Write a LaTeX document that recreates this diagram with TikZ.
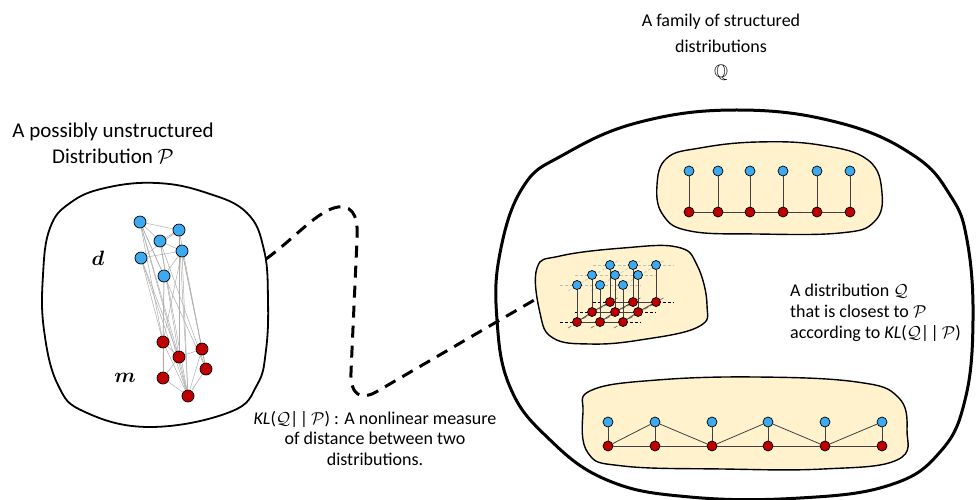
\documentclass[tikz,border=0pt]{standalone}
\usepackage{amsmath,amssymb}
\usepackage{fontspec}
\setmainfont{Carlito}
\usetikzlibrary{calc}
\pgfdeclarelayer{edgelayer}
\pgfsetlayers{edgelayer,main}
\definecolor{nblue}{HTML}{3DA9F0}
\definecolor{nred}{HTML}{C00000}
\definecolor{blobfill}{HTML}{FFF2CC}
\begin{document}
\begin{tikzpicture}[x=1pt,y=-1pt,
  bn/.style={circle,draw=black,fill=nblue,inner sep=0pt,minimum size=#1,line width=0.7pt},
  bn/.default=10pt,
  rn/.style={circle,draw=black,fill=nred,inner sep=0pt,minimum size=#1,line width=0.7pt},
  rn/.default=10pt,
  gedge/.style={draw=gray!65,line width=0.5pt},
  cedge/.style={draw=black!75,line width=0.8pt},
  blob/.style={draw=black,line width=1.4pt,fill=blobfill},
  bigblob/.style={draw=black,line width=3pt},
  pblob/.style={draw=black,line width=1.8pt},
  lbl/.style={font=\fontsize{18}{25.5}\selectfont,align=center,inner sep=0pt},
  gdash/.style={draw=black,line width=0.5pt,dash pattern=on 3pt off 2pt},
  ldash/.style={draw=gray!50,line width=0.5pt,dash pattern=on 3pt off 2pt},
  link/.style={draw=black,line width=3pt,dash pattern=on 12pt off 8pt}
]
\useasboundingbox (0,0) rectangle (977,499);

% ---------- texts ----------
\node[lbl,anchor=north] (ttop) at (721,14) {A family of structured\\distributions\\$\mathbb{Q}$};
\node[lbl,anchor=north,font=\fontsize{21}{26}\selectfont] (tleft) at (113,123) {A possibly unstructured\\Distribution $\mathcal{P}$};
\node[lbl,anchor=north,font=\fontsize{18}{20.5}\selectfont] (tbot) at (375,411)
  {\textit{KL}($\mathcal{Q}$|\kern1.5pt|\,$\mathcal{P}$) : A nonlinear measure\\of distance between two\\distributions.};
\node[lbl,anchor=north west,align=left,font=\fontsize{18}{21}\selectfont] (tright) at (790,284)
  {A distribution $\mathcal{Q}$\\that is closest to $\mathcal{P}$\\according to \textit{KL}($\mathcal{Q}$|\kern1.5pt|\,$\mathcal{P}$)};

% ---------- left blob ----------
\draw[pblob] plot[smooth cycle,tension=0.7] coordinates {(50,228) (70,203) (105,188) (157,183) (207,193) (247,213) (264,250) (268,300) (266,350) (257,385) (230,412) (150,427) (85,412) (58,385) (44,330) (43,275)};
\coordinate (pstart) at (266,259);

\node[font=\fontsize{21}{21}\selectfont] (dl) at (98,258) {$\boldsymbol{d}$};
\node[font=\fontsize{21}{21}\selectfont] (ml) at (125,378) {$\boldsymbol{m}$};

\foreach \n/\x/\y in {b1/140/222,b2/160/241,b3/179/230,b4/182/251,b5/141/258,b6/164/276}
  \node[bn=12pt] (\n) at (\x,\y) {};
\foreach \n/\x/\y in {r1/163/342,r2/179/357,r3/202/349,r4/206/369,r5/163/378,r6/188/396}
  \node[rn=12pt] (\n) at (\x,\y) {};
\begin{pgfonlayer}{edgelayer}
\foreach \a/\b in {b1/b2,b1/b3,b2/b3,b2/b4,b5/b3,b5/b4,b4/b6,b1/b6,
  b1/r1,b1/r2,b1/r6,b1/r4,b5/r1,b5/r2,b5/r6,b2/r2,b2/r6,b2/r4,b6/r1,b6/r5,b4/r1,b4/r3,b4/r4,b4/r6,b3/r3,b3/r6,b3/r2,
  r1/r2,r1/r5,r2/r3,r3/r4,r5/r6,r4/r6,r2/r6,r1/r6,r2/r5,r3/r6}
  \draw[gedge] (\a) -- (\b);
\end{pgfonlayer}

% ---------- big blob ----------
\draw[bigblob] plot[smooth cycle,tension=0.7] coordinates {(740,110) (840,123) (913,155) (950,195) (967,240) (973,320) (965,400) (940,452) (890,485) (800,498) (690,497) (607,480) (547,437) (510,387) (497,320) (500,253) (523,187) (563,155) (640,122)};

% ---------- top yellow blob ----------
\draw[blob] plot[smooth cycle,tension=0.7] coordinates {(657,185) (667,158) (700,148) (757,142) (820,145) (868,160) (882,193) (874,222) (840,233) (757,234) (690,231) (663,215)};
\foreach \i/\x in {1/689,2/718,3/750,4/783,5/817,6/850}{
  \node[bn] (tb\i) at (\x,171) {};
  \node[rn] (tr\i) at (\x,212) {};
}
\foreach \i in {1,...,6} \draw[cedge] (tb\i) -- (tr\i);
\foreach \i/\j in {1/2,2/3,3/4,4/5,5/6} \draw[cedge] (tr\i) -- (tr\j);

% ---------- bottom yellow blob ----------
\draw[blob] plot[smooth cycle,tension=0.7] coordinates {(583,412) (592,390) (657,380) (757,377) (857,382) (898,397) (907,430) (897,460) (823,469) (723,469) (623,466) (588,453)};
\foreach \i/\x in {1/608,2/655,3/712,4/768,5/825,6/882}{
  \node[bn] (ub\i) at (\x,422) {};
  \node[rn] (ur\i) at (\x,446) {};
}
\foreach \i in {1,...,6} \draw[cedge] (ub\i) -- (ur\i);
\foreach \i/\j in {1/2,2/3,3/4,4/5,5/6} \draw[cedge] (ur\i) -- (ur\j);
\foreach \a/\b in {ur1/ub2,ub2/ur3,ur3/ub4,ub4/ur5,ur5/ub6} \draw[cedge] (\a) -- (\b);

% ---------- middle yellow blob (grid) ----------
\draw[blob] plot[smooth cycle,tension=0.7] coordinates {(537,268) (560,256) (623,248) (677,247) (697,265) (707,305) (698,327) (640,340) (590,344) (553,338) (540,313)};
\coordinate (pend) at (536,299);
\foreach \r/\dx/\y in {f/0/322,m/15/312,k/33/302}{
  \foreach \c/\x in {1/577,2/600,3/623}{
    \coordinate (g\r\c) at ({\x+\dx},\y);
    \coordinate (h\r\c) at ({\x+\dx},\y-37);
  }
}
\foreach \r in {f,m,k}{
  \coordinate (e\r a) at ($(g\r1)!-0.75!(g\r2)$);
  \coordinate (e\r b) at ($(g\r3)!-0.75!(g\r2)$);
  \draw[gdash] (e\r a) -- (e\r b);
  \draw[cedge] (g\r1) -- (g\r3);
  \coordinate (l\r a) at ($(h\r1)!-0.75!(h\r2)$);
  \coordinate (l\r b) at ($(h\r3)!-0.75!(h\r2)$);
  \draw[ldash] (l\r a) -- (l\r b);
}
\foreach \c in {1,2,3}{
  \coordinate (dca\c) at ($(gf\c)!-0.6!(gm\c)$);
  \coordinate (dcb\c) at ($(gk\c)!-0.45!(gm\c)$);
  \draw[draw=black!60,dash pattern=on 4pt off 2pt,line width=0.6pt] (dca\c) -- (dcb\c);
  \draw[cedge] (gf\c) -- (gm\c) -- (gk\c);
  \coordinate (eca\c) at ($(hf\c)!-0.6!(hm\c)$);
  \coordinate (ecb\c) at ($(hk\c)!-0.45!(hm\c)$);
  \draw[ldash] (eca\c) -- (ecb\c);
}
\foreach \r in {k,m,f}{
  \foreach \c in {1,2,3}{
    \node[rn=9pt] (R\r\c) at (g\r\c) {};
    \node[bn=9pt] (B\r\c) at (h\r\c) {};
    \draw[cedge] (B\r\c) -- (R\r\c);
  }
}

% ---------- dashed link ----------
\draw[link] (pstart) .. controls (295,238) and (318,210) .. (338,207)
  .. controls (356,205) and (358,222) .. (357,240) -- (351,372)
  .. controls (350,396) and (362,400) .. (376,392) -- (pend);
\end{tikzpicture}
\end{document}
